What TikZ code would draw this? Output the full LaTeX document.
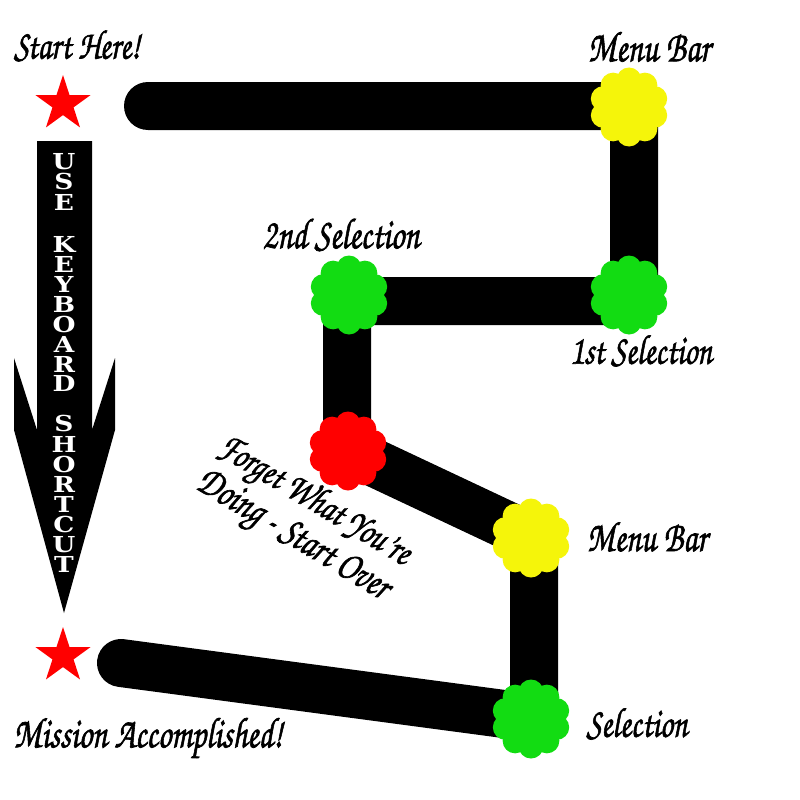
\documentclass[tikz,border=0pt]{standalone}
\usepackage{fontspec}
\usepackage{graphicx}
\usetikzlibrary{shapes.geometric}
\newfontfamily\scr[FakeBold=1.6]{TeX Gyre Chorus}
\newfontfamily\blk{DejaVu Serif}
\definecolor{fyel}{RGB}{245,245,10}
\definecolor{fgrn}{RGB}{18,220,18}
\definecolor{fred}{RGB}{255,0,0}
\newcommand\lbl[2]{\resizebox{#1pt}{!}{\scalebox{1}[1.3]{\scr\fontsize{30}{34}\selectfont #2}}}
\newcommand\flowerat[3]{%
  \coordinate (#1) at #2;
  \fill[#3] (#1) circle (27pt);
  \foreach \a in {0,36,...,324} \fill[#3] (#1) ++(\a+18:27pt) circle (12.5pt);
}
\tikzset{
  road/.style={line width=48pt, line cap=round, line join=round, black},
  redstar/.style={star, star points=5, star point ratio=2.618, minimum size=58pt, inner sep=0pt, fill=fred, draw=none},
  arrowletter/.style={text=white, anchor=base, inner sep=0pt, font=\blk\bfseries\fontsize{22}{22}\selectfont},
  lab/.style={inner sep=0pt, text=black},
}
\begin{document}
\begin{tikzpicture}[x=1pt,y=-1pt]
\fill[white] (0,0) rectangle (800,800);
\useasboundingbox (0,0) rectangle (800,800);

% road corner coordinates
\coordinate (r0) at (148,106);
\coordinate (r1) at (634,106);
\coordinate (r2) at (634,301);
\coordinate (r3) at (347,301);
\coordinate (r4) at (347,450);
\coordinate (r5) at (534,538);
\coordinate (r6) at (534,718);
\coordinate (r7) at (121,663);
\draw[road] (r0) -- (r1) -- (r2) -- (r3) -- (r4) -- (r5) -- (r6) -- (r7);

% flowers
\flowerat{menu1}{(629,107)}{fyel}
\flowerat{sel1}{(629,295)}{fgrn}
\flowerat{sel2}{(349,295)}{fgrn}
\flowerat{over}{(348,451)}{fred}
\flowerat{menu2}{(531,538)}{fyel}
\flowerat{sel3}{(531,719)}{fgrn}

% stars
\node[redstar] (star1) at (63,104) {};
\node[redstar] (star2) at (63,656) {};

% big arrow
\fill[black] (37,141) -- (92,141) -- (92,430) -- (115,358) -- (115,430)
  -- (64,613) -- (14,430) -- (14,358) -- (37,430) -- cycle;
\foreach \ch/\yy in {U/161,S/181,E/202,K/244,E/264,Y/284,B/304,O/324,A/344,R/364,D/383,S/423,H/444,O/464,R/484,T/504,C/524,U/544,T/564}
  \node[arrowletter] (L\yy) at (64,{\yy+8}) {\scalebox{1.2}[1]{\ch}};

% labels
\node[lab] (tstart) at (77,46) {\lbl{126}{Start Here!}};
\node[lab] (tmenu1) at (649,47) {\lbl{122}{Menu Bar}};
\node[lab] (tsel2) at (341,235) {\lbl{157}{2nd Selection}};
\node[lab] (tsel1) at (641,351) {\lbl{142}{1st Selection}};
\node[lab] (tmenu2) at (647,537) {\lbl{120}{Menu Bar}};
\node[lab] (tsel3) at (637,724) {\lbl{101}{Selection}};
\node[lab] (tend) at (148,738) {\lbl{269}{Mission Accomplished!}};
\node[lab, rotate=-31] (tover1) at (314,502) {\lbl{218}{Forget What You’re}};
\node[lab, rotate=-31] (tover2) at (292,537) {\lbl{218}{Doing - Start Over}};
\end{tikzpicture}
\end{document}
